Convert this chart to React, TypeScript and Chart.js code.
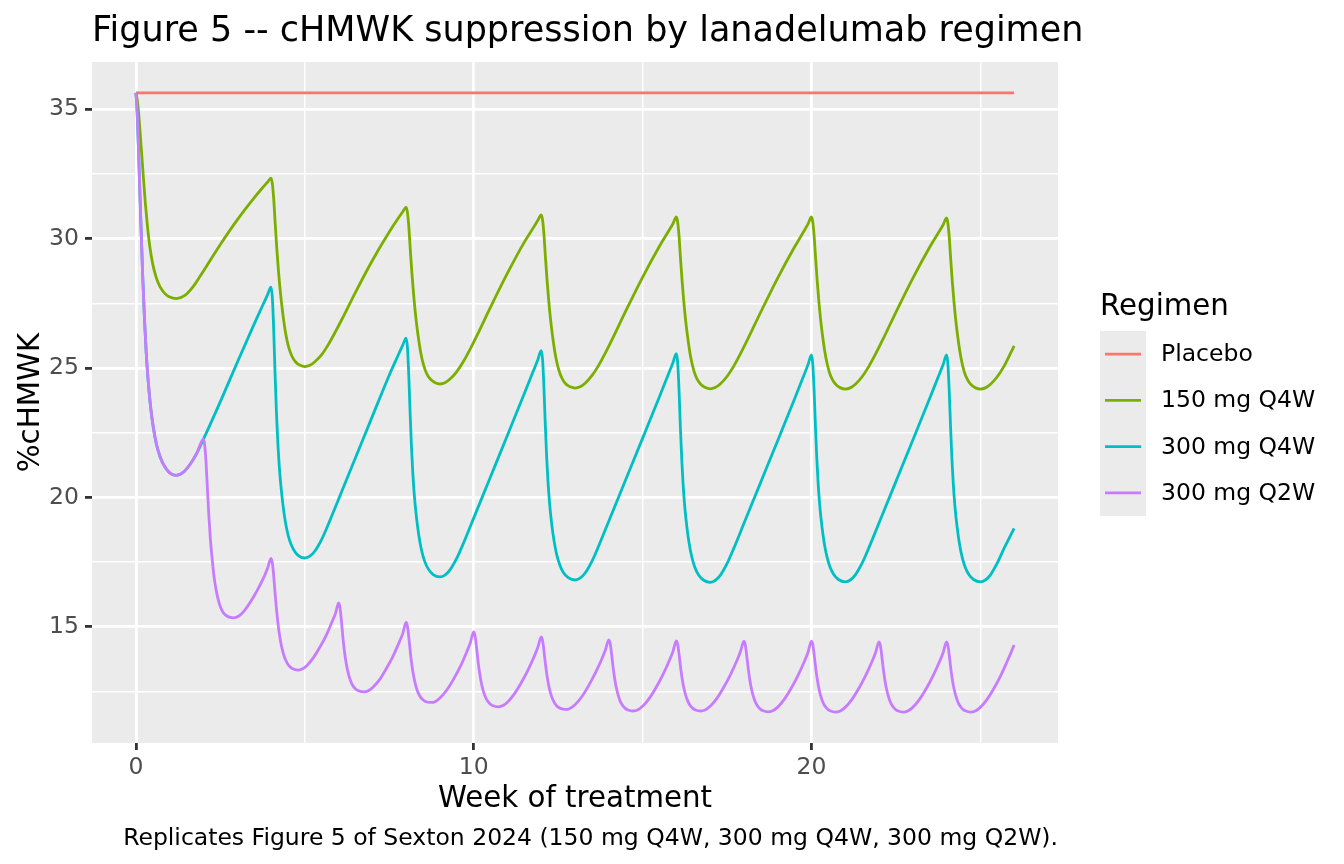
import { useEffect, useRef } from "react";
import { Chart, registerables } from "chart.js";

Chart.register(...registerables);

// ---------------- data ----------------
const regimenLabels = ["Placebo", "150 mg Q4W", "300 mg Q4W", "300 mg Q2W"];
const regimenColors = ["#F8766D", "#7CAE00", "#00BFC4", "#C77CFF"];

const xTickLabels = [0, 10, 20];
const yTickLabels = [15, 20, 25, 30, 35];

// [week, %cHMWK]
const placebo: [number, number][] = [
  [0, 35.62], [26, 35.62],
];

const mg150q4w: [number, number][] = [
  [0, 35.62], [0.04, 35.35], [0.08, 34.85], [0.13, 34.0], [0.18, 33.1], [0.23, 32.2], [0.28, 31.35], [0.34, 30.5], [0.41, 29.7],
  [0.5, 29.0], [0.6, 28.5], [0.72, 28.12], [0.86, 27.87], [1.0, 27.74], [1.2, 27.68],
  [1.45, 27.8], [1.7, 28.15], [1.9, 28.54], [2.1, 28.95], [2.5, 29.77], [3.0, 30.72], [3.5, 31.57], [3.75, 31.96], [3.9, 32.18], [4.0, 32.33],
  [4.04, 32.11], [4.08, 31.53], [4.12, 30.66], [4.17, 29.64], [4.22, 28.76], [4.28, 27.89], [4.35, 27.09], [4.43, 26.36], [4.52, 25.81],
  [4.62, 25.45], [4.73, 25.23], [4.86, 25.1], [5.0, 25.05],
  [5.15, 25.1], [5.3, 25.24], [5.5, 25.51], [5.7, 25.91], [5.9, 26.38], [6.1, 26.88], [6.5, 27.92], [7.0, 29.15], [7.5, 30.25], [7.75, 30.75], [7.9, 31.03], [8.0, 31.21],
  [8.04, 31.0], [8.08, 30.46], [8.12, 29.64], [8.17, 28.68], [8.22, 27.86], [8.28, 27.04], [8.35, 26.29], [8.43, 25.61], [8.52, 25.1],
  [8.62, 24.75], [8.73, 24.55], [8.86, 24.43], [9.0, 24.38],
  [9.15, 24.43], [9.3, 24.57], [9.5, 24.86], [9.7, 25.26], [9.9, 25.74], [10.1, 26.26], [10.5, 27.35], [11.0, 28.66], [11.5, 29.86], [11.75, 30.38], [11.9, 30.7], [12.0, 30.91],
  [12.04, 30.71], [12.08, 30.17], [12.12, 29.37], [12.17, 28.43], [12.22, 27.63], [12.28, 26.83], [12.35, 26.09], [12.43, 25.42], [12.52, 24.92],
  [12.62, 24.59], [12.73, 24.38], [12.86, 24.27], [13.0, 24.22],
  [13.15, 24.27], [13.3, 24.41], [13.5, 24.7], [13.7, 25.1], [13.9, 25.58], [14.1, 26.1], [14.5, 27.19], [15.0, 28.5], [15.5, 29.7], [15.75, 30.24], [15.9, 30.57], [16.0, 30.83],
  [16.04, 30.63], [16.08, 30.1], [16.12, 29.3], [16.17, 28.37], [16.22, 27.58], [16.28, 26.78], [16.35, 26.05], [16.43, 25.38], [16.52, 24.89],
  [16.62, 24.56], [16.73, 24.36], [16.86, 24.24], [17.0, 24.19],
  [17.15, 24.24], [17.3, 24.38], [17.5, 24.67], [17.7, 25.07], [17.9, 25.55], [18.1, 26.07], [18.5, 27.16], [19.0, 28.47], [19.5, 29.67], [19.75, 30.22], [19.9, 30.56], [20.0, 30.83],
  [20.04, 30.63], [20.08, 30.1], [20.12, 29.3], [20.17, 28.37], [20.22, 27.57], [20.28, 26.77], [20.35, 26.04], [20.43, 25.38], [20.52, 24.88],
  [20.62, 24.55], [20.73, 24.35], [20.86, 24.23], [21.0, 24.18],
  [21.15, 24.23], [21.3, 24.37], [21.5, 24.66], [21.7, 25.06], [21.9, 25.54], [22.1, 26.06], [22.5, 27.15], [23.0, 28.46], [23.5, 29.66], [23.75, 30.2], [23.9, 30.53], [24.0, 30.79],
  [24.04, 30.59], [24.08, 30.06], [24.12, 29.27], [24.17, 28.34], [24.22, 27.55], [24.28, 26.76], [24.35, 26.03], [24.43, 25.37], [24.52, 24.87],
  [24.62, 24.55], [24.73, 24.35], [24.86, 24.23], [25.0, 24.18],
  [25.15, 24.23], [25.3, 24.37], [25.5, 24.66], [25.7, 25.06], [25.9, 25.58], [26.0, 25.85],
];

const mg300q4w: [number, number][] = [
  [0, 35.62], [0.02, 35.3], [0.05, 34.45], [0.08, 33.3], [0.12, 31.7], [0.16, 30.1], [0.2, 28.6], [0.25, 27.0], [0.3, 25.7], [0.36, 24.55],
  [0.43, 23.55], [0.51, 22.75], [0.6, 22.1], [0.72, 21.55], [0.86, 21.17], [1.0, 20.95], [1.19, 20.85], [1.4, 20.97], [1.6, 21.27], [1.8, 21.7], [2.0, 22.25],
  [2.5, 23.7], [3.0, 25.21], [3.5, 26.69], [3.75, 27.41], [3.9, 27.83], [4.0, 28.12],
  [4.04, 27.7], [4.08, 26.45], [4.12, 24.77], [4.16, 23.31], [4.2, 22.16], [4.25, 21.11], [4.31, 20.22], [4.38, 19.44], [4.46, 18.81],
  [4.55, 18.34], [4.66, 18.0], [4.8, 17.76], [5.0, 17.66],
  [5.15, 17.73], [5.3, 17.93], [5.5, 18.38], [5.7, 18.97], [6.0, 19.93], [6.5, 21.53], [7.0, 23.13], [7.5, 24.72], [7.75, 25.45], [7.9, 25.88], [8.0, 26.15],
  [8.04, 25.78], [8.08, 24.67], [8.12, 23.2], [8.16, 21.91], [8.2, 20.9], [8.25, 19.97], [8.31, 19.19], [8.38, 18.5], [8.46, 17.94],
  [8.55, 17.53], [8.66, 17.23], [8.8, 17.02], [9.0, 16.93],
  [9.15, 17.0], [9.3, 17.2], [9.5, 17.65], [9.7, 18.24], [10.0, 19.2], [10.5, 20.8], [11.0, 22.4], [11.5, 24.01], [11.75, 24.83], [11.9, 25.32], [12.0, 25.67],
  [12.04, 25.32], [12.08, 24.25], [12.12, 22.83], [12.16, 21.59], [12.2, 20.62], [12.25, 19.73], [12.31, 18.98], [12.38, 18.32], [12.46, 17.78],
  [12.55, 17.39], [12.66, 17.09], [12.8, 16.9], [13.0, 16.81],
  [13.15, 16.88], [13.3, 17.08], [13.5, 17.53], [13.7, 18.12], [14.0, 19.08], [14.5, 20.68], [15.0, 22.28], [15.5, 23.89], [15.75, 24.71], [15.9, 25.2], [16.0, 25.55],
  [16.04, 25.2], [16.08, 24.14], [16.12, 22.72], [16.16, 21.49], [16.2, 20.52], [16.25, 19.63], [16.31, 18.88], [16.38, 18.22], [16.46, 17.69],
  [16.55, 17.29], [16.66, 17.0], [16.8, 16.81], [17.0, 16.72],
  [17.15, 16.79], [17.3, 16.99], [17.5, 17.44], [17.7, 18.03], [18.0, 18.99], [18.5, 20.59], [19.0, 22.19], [19.5, 23.8], [19.75, 24.63], [19.9, 25.13], [20.0, 25.5],
  [20.04, 25.15], [20.08, 24.1], [20.12, 22.7], [20.16, 21.47], [20.2, 20.51], [20.25, 19.63], [20.31, 18.89], [20.38, 18.23], [20.46, 17.7],
  [20.55, 17.31], [20.66, 17.02], [20.8, 16.83], [21.0, 16.74],
  [21.15, 16.81], [21.3, 17.01], [21.5, 17.46], [21.7, 18.05], [22.0, 19.01], [22.5, 20.61], [23.0, 22.21], [23.5, 23.82], [23.75, 24.64], [23.9, 25.13], [24.0, 25.5],
  [24.04, 25.15], [24.08, 24.1], [24.12, 22.7], [24.16, 21.47], [24.2, 20.51], [24.25, 19.63], [24.31, 18.89], [24.38, 18.23], [24.46, 17.7],
  [24.55, 17.31], [24.66, 17.02], [24.8, 16.83], [25.0, 16.74],
  [25.15, 16.81], [25.3, 17.01], [25.5, 17.46], [25.7, 18.02], [26.0, 18.8],
];

const mg300q2w: [number, number][] = [
  [0, 35.62], [0.02, 35.3], [0.05, 34.45], [0.08, 33.3], [0.12, 31.7], [0.16, 30.1], [0.2, 28.6], [0.25, 27.0], [0.3, 25.7], [0.36, 24.55],
  [0.43, 23.55], [0.51, 22.75], [0.6, 22.1], [0.72, 21.55], [0.86, 21.17], [1.0, 20.95], [1.19, 20.85], [1.4, 20.97], [1.6, 21.27], [1.8, 21.7], [2.0, 22.25],
  [2.035, 22.04], [2.07, 21.49], [2.115, 20.39], [2.16, 19.28], [2.205, 18.39], [2.255, 17.66], [2.31, 16.97], [2.38, 16.39], [2.46, 15.94],
  [2.55, 15.63], [2.655, 15.45], [2.89, 15.35],
  [3.05, 15.42], [3.2, 15.61], [3.4, 15.98], [3.6, 16.43], [3.8, 16.95], [3.9, 17.27], [4.0, 17.64],
  [4.033, 17.51], [4.066, 17.17], [4.11, 16.48], [4.154, 15.79], [4.198, 15.23], [4.242, 14.77], [4.297, 14.34], [4.363, 13.98], [4.44, 13.7],
  [4.528, 13.5], [4.627, 13.39], [4.79, 13.33],
  [4.92, 13.37], [5.06, 13.5], [5.25, 13.8], [5.44, 14.2], [5.63, 14.66], [5.81, 15.21], [5.91, 15.52], [6.0, 15.93],
  [6.03, 15.83], [6.06, 15.55], [6.1, 15.0], [6.14, 14.45], [6.18, 14.0], [6.22, 13.64], [6.27, 13.3], [6.33, 13.01], [6.4, 12.78],
  [6.48, 12.63], [6.57, 12.54], [6.74, 12.49],
  [6.88, 12.53], [7.02, 12.67], [7.22, 12.97], [7.41, 13.38], [7.61, 13.86], [7.8, 14.42], [7.9, 14.74], [8.0, 15.17],
  [8.03, 15.08], [8.06, 14.83], [8.1, 14.34], [8.14, 13.84], [8.18, 13.44], [8.22, 13.12], [8.27, 12.81], [8.33, 12.54], [8.4, 12.34],
  [8.48, 12.2], [8.57, 12.12], [8.73, 12.08],
  [8.87, 12.12], [9.01, 12.26], [9.21, 12.57], [9.41, 12.99], [9.61, 13.48], [9.8, 14.05], [9.9, 14.38], [10.0, 14.81],
  [10.03, 14.72], [10.06, 14.49], [10.1, 14.03], [10.14, 13.56], [10.18, 13.19], [10.22, 12.88], [10.27, 12.59], [10.33, 12.35], [10.4, 12.16],
  [10.48, 12.03], [10.57, 11.95], [10.71, 11.91],
  [10.85, 11.95], [11.0, 12.09], [11.2, 12.4], [11.4, 12.82], [11.6, 13.31], [11.8, 13.88], [11.9, 14.21], [12.0, 14.61],
  [12.03, 14.53], [12.06, 14.3], [12.1, 13.85], [12.14, 13.41], [12.18, 13.04], [12.22, 12.75], [12.27, 12.47], [12.33, 12.23], [12.4, 12.05],
  [12.48, 11.92], [12.57, 11.85], [12.71, 11.81],
  [12.85, 11.85], [13.0, 11.99], [13.2, 12.3], [13.4, 12.72], [13.6, 13.21], [13.8, 13.78], [13.9, 14.11], [14.0, 14.5],
  [14.03, 14.42], [14.06, 14.2], [14.1, 13.76], [14.14, 13.32], [14.18, 12.96], [14.22, 12.67], [14.27, 12.4], [14.33, 12.16], [14.4, 11.98],
  [14.48, 11.86], [14.57, 11.79], [14.71, 11.75],
  [14.85, 11.79], [15.0, 11.93], [15.2, 12.24], [15.4, 12.66], [15.6, 13.15], [15.8, 13.72], [15.9, 14.05], [16.0, 14.46],
  [16.03, 14.38], [16.06, 14.16], [16.1, 13.73], [16.14, 13.29], [16.18, 12.94], [16.22, 12.66], [16.27, 12.39], [16.33, 12.16], [16.4, 11.98],
  [16.48, 11.86], [16.57, 11.79], [16.71, 11.75],
  [16.85, 11.79], [17.0, 11.93], [17.2, 12.24], [17.4, 12.66], [17.6, 13.15], [17.8, 13.72], [17.9, 14.05], [18.0, 14.45],
  [18.03, 14.37], [18.06, 14.15], [18.1, 13.71], [18.14, 13.28], [18.18, 12.92], [18.22, 12.63], [18.27, 12.36], [18.33, 12.13], [18.4, 11.95],
  [18.48, 11.83], [18.57, 11.76], [18.71, 11.72],
  [18.85, 11.76], [19.0, 11.9], [19.2, 12.21], [19.4, 12.63], [19.6, 13.12], [19.8, 13.69], [19.9, 14.02], [20.0, 14.45],
  [20.03, 14.37], [20.06, 14.15], [20.1, 13.71], [20.14, 13.27], [20.18, 12.92], [20.22, 12.63], [20.27, 12.35], [20.33, 12.12], [20.4, 11.94],
  [20.48, 11.82], [20.57, 11.75], [20.71, 11.71],
  [20.85, 11.75], [21.0, 11.89], [21.2, 12.2], [21.4, 12.62], [21.6, 13.11], [21.8, 13.68], [21.9, 14.01], [22.0, 14.42],
  [22.03, 14.34], [22.06, 14.12], [22.1, 13.69], [22.14, 13.25], [22.18, 12.9], [22.22, 12.62], [22.27, 12.35], [22.33, 12.12], [22.4, 11.94],
  [22.48, 11.82], [22.57, 11.75], [22.71, 11.71],
  [22.85, 11.75], [23.0, 11.89], [23.2, 12.2], [23.4, 12.62], [23.6, 13.11], [23.8, 13.68], [23.9, 14.01], [24.0, 14.42],
  [24.03, 14.34], [24.06, 14.12], [24.1, 13.69], [24.14, 13.25], [24.18, 12.9], [24.22, 12.62], [24.27, 12.35], [24.33, 12.12], [24.4, 11.94],
  [24.48, 11.82], [24.57, 11.75], [24.71, 11.71],
  [24.85, 11.75], [25.0, 11.89], [25.2, 12.2], [25.4, 12.62], [25.6, 13.11], [25.8, 13.68], [25.9, 13.98], [26.0, 14.3],
];

const seriesData = [placebo, mg150q4w, mg300q4w, mg300q2w];

const TITLE = "Figure 5 -- cHMWK suppression by lanadelumab regimen";
const X_TITLE = "Week of treatment";
const Y_TITLE = "%cHMWK";
const LEGEND_TITLE = "Regimen";
const CAPTION = "Replicates Figure 5 of Sexton 2024 (150 mg Q4W, 300 mg Q4W, 300 mg Q2W).";

// ---------------- styling ----------------
const FAMILY = '"DejaVu Sans", "Liberation Sans", sans-serif';
const W = 1328;
const H = 848;
const MAJOR_LW = 2.8;
const MINOR_LW = 1.4;

const near = (v: number, step: number) => Math.abs(v / step - Math.round(v / step)) < 1e-6;
const isLabel = (v: number, list: number[]) => list.some((t) => Math.abs(v - t) < 1e-6);

const ggPlugin = {
  id: "ggTheme",
  beforeDraw(chart: any) {
    const { ctx, chartArea: a } = chart;
    ctx.save();
    ctx.fillStyle = "#EBEBEB";
    ctx.fillRect(a.left, a.top, a.right - a.left, a.bottom - a.top);
    ctx.restore();
  },
  afterDraw(chart: any) {
    const { ctx, chartArea: a } = chart;
    ctx.save();
    ctx.fillStyle = "#000000";
    ctx.textBaseline = "alphabetic";

    // title
    ctx.font = `35px ${FAMILY}`;
    ctx.textAlign = "left";
    ctx.fillText(TITLE, a.left, 33);

    // x axis title
    ctx.font = `29.3px ${FAMILY}`;
    ctx.textAlign = "center";
    ctx.fillText(X_TITLE, (a.left + a.right) / 2, 799);

    // y axis title
    ctx.save();
    ctx.translate(31, (a.top + a.bottom) / 2);
    ctx.rotate(-Math.PI / 2);
    ctx.textAlign = "center";
    ctx.fillText(Y_TITLE, 0, 0);
    ctx.restore();

    // caption
    ctx.font = `23.5px ${FAMILY}`;
    ctx.textAlign = "right";
    ctx.fillText(CAPTION, a.right, 837);

    // legend
    const lx = a.right + 42;
    ctx.font = `29.3px ${FAMILY}`;
    ctx.textAlign = "left";
    ctx.fillText(LEGEND_TITLE, lx, 307);
    const keyTop = 323;
    const keyH = 46.25;
    const keyW = 46;
    const n = chart.data.datasets.length;
    ctx.fillStyle = "#EBEBEB";
    ctx.fillRect(lx, keyTop, keyW, keyH * n);
    ctx.font = `23.5px ${FAMILY}`;
    ctx.textBaseline = "middle";
    chart.data.datasets.forEach((ds: any, i: number) => {
      const cy = keyTop + keyH * (i + 0.5);
      ctx.strokeStyle = ds.borderColor;
      ctx.lineWidth = MAJOR_LW;
      ctx.lineCap = "butt";
      ctx.beginPath();
      ctx.moveTo(lx + 5, cy);
      ctx.lineTo(lx + keyW - 5, cy);
      ctx.stroke();
      ctx.fillStyle = "#000000";
      ctx.fillText(ds.label, lx + keyW + 15, cy + 1);
    });
    ctx.restore();
  },
};

export default function App() {
  const canvasRef = useRef<HTMLCanvasElement | null>(null);

  useEffect(() => {
    const canvas = canvasRef.current;
    if (!canvas) return;

    const allX = seriesData.flat().map((p) => p[0]);
    const allY = seriesData.flat().map((p) => p[1]);
    const xLo = Math.min(...allX), xHi = Math.max(...allX);
    const yLo = Math.min(...allY), yHi = Math.max(...allY);
    const xPad = (xHi - xLo) * 0.05;
    const yPad = (yHi - yLo) * 0.05;

    const datasets = seriesData.map((pts, i) => ({
      label: regimenLabels[i],
      data: pts.map(([x, y]) => ({ x, y })),
      borderColor: regimenColors[i],
      backgroundColor: regimenColors[i],
      borderWidth: 2.8,
      pointRadius: 0,
      pointHoverRadius: 0,
      fill: false,
      cubicInterpolationMode: "monotone" as const,
      borderJoinStyle: "round" as const,
      borderCapStyle: "butt" as const,
      order: seriesData.length - 1 - i,
    }));

    const chart = new Chart(canvas, {
      type: "line",
      data: { datasets },
      plugins: [ggPlugin],
      options: {
        animation: false,
        responsive: false,
        maintainAspectRatio: false,
        events: [],
        layout: { padding: { top: 54, right: 278, left: 0, bottom: 0 } },
        plugins: {
          legend: { display: false },
          title: { display: false },
          tooltip: { enabled: false },
        },
        scales: {
          x: {
            type: "linear",
            min: xLo - xPad,
            max: xHi + xPad,
            afterFit: (s: any) => {
              s.height = 113;
            },
            border: { display: false },
            grid: {
              color: "#FFFFFF",
              lineWidth: (c: any) => (near(c.tick.value, 10) ? MAJOR_LW : MINOR_LW),
              drawTicks: true,
              tickLength: 7,
              tickWidth: MAJOR_LW,
              tickColor: (c: any) => (near(c.tick.value, 10) ? "#333333" : "rgba(0,0,0,0)"),
            },
            ticks: {
              stepSize: 5,
              includeBounds: false,
              autoSkip: false,
              maxRotation: 0,
              padding: 4,
              color: "#4D4D4D",
              font: { family: FAMILY, size: 23.5 },
              callback: (v: any) => (isLabel(Number(v), xTickLabels) ? String(Math.round(Number(v))) : ""),
            },
          },
          y: {
            type: "linear",
            min: yLo - yPad,
            max: yHi + yPad,
            afterFit: (s: any) => {
              s.width = 84;
            },
            border: { display: false },
            grid: {
              color: "#FFFFFF",
              lineWidth: (c: any) => (near(c.tick.value, 5) ? MAJOR_LW : MINOR_LW),
              drawTicks: true,
              tickLength: 7,
              tickWidth: MAJOR_LW,
              tickColor: (c: any) => (near(c.tick.value, 5) ? "#333333" : "rgba(0,0,0,0)"),
            },
            ticks: {
              stepSize: 2.5,
              includeBounds: false,
              autoSkip: false,
              padding: 6,
              color: "#4D4D4D",
              font: { family: FAMILY, size: 23.5 },
              callback: (v: any) => (isLabel(Number(v), yTickLabels) ? String(Math.round(Number(v))) : ""),
            },
          },
        },
      },
    });

    return () => chart.destroy();
  }, []);

  return (
    <div style={{ width: W, height: H }}>
      <canvas ref={canvasRef} width={W} height={H} style={{ width: W, height: H, display: "block" }} />
    </div>
  );
}
